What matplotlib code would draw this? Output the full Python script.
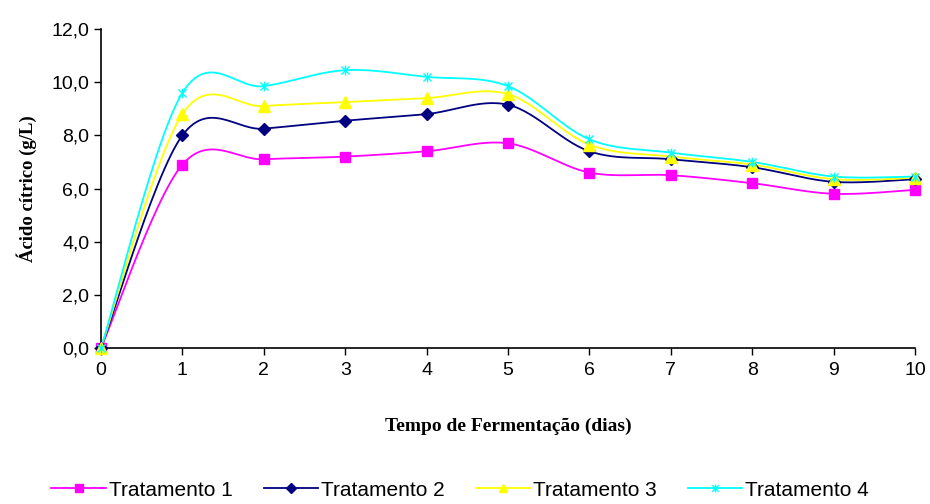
"""Citric acid over fermentation time for four treatments."""
import matplotlib
matplotlib.use("Agg")
import matplotlib.pyplot as plt
import numpy as np
from matplotlib.path import Path
from matplotlib.ticker import FuncFormatter

dias = [0, 1, 2, 3, 4, 5, 6, 7, 8, 9, 10]
trat1 = [0.0, 6.9, 7.1, 7.2, 7.4, 7.7, 6.6, 6.5, 6.2, 5.8, 5.95]
trat2 = [0.0, 8.0, 8.25, 8.55, 8.8, 9.15, 7.4, 7.1, 6.8, 6.25, 6.35]
trat3 = [0.0, 8.8, 9.1, 9.25, 9.4, 9.55, 7.65, 7.2, 6.9, 6.35, 6.4]
trat4 = [0.0, 9.6, 9.85, 10.45, 10.2, 9.85, 7.85, 7.35, 7.0, 6.45, 6.45]
nomes = ["Tratamento 1", "Tratamento 2", "Tratamento 3", "Tratamento 4"]


def suavizar(x, y, n=30):
    """Bezier smoothing through every point, like spreadsheet smoothed lines."""
    x = np.asarray(x, float)
    y = np.asarray(y, float)
    px = np.concatenate([[x[0]], x, [x[-1]]])
    py = np.concatenate([[y[0]], y, [y[-1]]])
    xs, ys = [x[0]], [y[0]]
    t = np.linspace(0, 1, n)[1:]
    for i in range(1, len(px) - 2):
        p0 = np.array([px[i], py[i]])
        p3 = np.array([px[i + 1], py[i + 1]])
        p1 = p0 + (np.array([px[i + 1], py[i + 1]]) - np.array([px[i - 1], py[i - 1]])) / 6
        p2 = p3 - (np.array([px[i + 2], py[i + 2]]) - np.array([px[i], py[i]])) / 6
        b = ((1 - t) ** 3)[:, None] * p0 + (3 * (1 - t) ** 2 * t)[:, None] * p1 \
            + (3 * (1 - t) * t ** 2)[:, None] * p2 + (t ** 3)[:, None] * p3
        xs.extend(b[:, 0])
        ys.extend(b[:, 1])
    return np.array(xs), np.array(ys)


# star marker: an x with a vertical stroke
estrela = Path(
    [(-1, -1), (1, 1), (-1, 1), (1, -1), (0, -1.2), (0, 1.2)],
    [Path.MOVETO, Path.LINETO, Path.MOVETO, Path.LINETO, Path.MOVETO, Path.LINETO],
)

series = [
    (trat1, "#ff00ff", "s", 7),
    (trat2, "#000080", "D", 6),
    (trat3, "#ffff00", "^", 8),
    (trat4, "#00ffff", estrela, 7),
]

fig = plt.figure(figsize=(9.3, 5.04), dpi=100)
ax = fig.add_axes([101 / 930, 1 - 348 / 504, 814 / 930, 319 / 504])

handles = []
for (vals, cor, mk, ms), nome in zip(series, nomes):
    sx, sy = suavizar(dias, vals)
    ax.plot(sx, sy, color=cor, lw=1.3, zorder=2)
    ax.plot(dias, vals, ls="none", marker=mk, ms=ms, color=cor, mec=cor,
            mew=1.0, zorder=3, clip_on=False)
    h, = ax.plot([], [], color=cor, lw=1.3, marker=mk, ms=ms * 0.8, mec=cor, mfc=cor)
    handles.append(h)

ax.set_xlim(0, 10)
ax.set_ylim(0, 12)
ax.set_xticks(dias)
ax.set_yticks(np.arange(0, 12.1, 2))
ax.yaxis.set_major_formatter(FuncFormatter(lambda v, p: f"{v:.1f}".replace(".", ",")))
ax.tick_params(direction="out", length=5, width=1, labelsize=14, colors="black")
ax.tick_params(axis="x", pad=5)
for lab in ax.get_xticklabels() + ax.get_yticklabels():
    lab.set_family("Liberation Sans")
ax.spines["top"].set_visible(False)
ax.spines["right"].set_visible(False)
ax.spines["left"].set_linewidth(1.2)
ax.spines["bottom"].set_linewidth(1.2)

ax.set_xlabel("Tempo de Fermentação (dias)", family="Liberation Serif",
              fontweight="bold", fontsize=14, labelpad=28)
ax.set_ylabel("Ácido cítrico (g/L)", family="Liberation Serif",
              fontweight="bold", fontsize=13.5, labelpad=10)

fig.legend(handles, nomes, loc="center", bbox_to_anchor=(0.495, 1 - 490 / 504),
           ncol=4, frameon=False, prop={"family": "Liberation Sans", "size": 15},
           handlelength=2.6, handletextpad=0.15, columnspacing=1.5)

fig.savefig("out.png", dpi=100)
